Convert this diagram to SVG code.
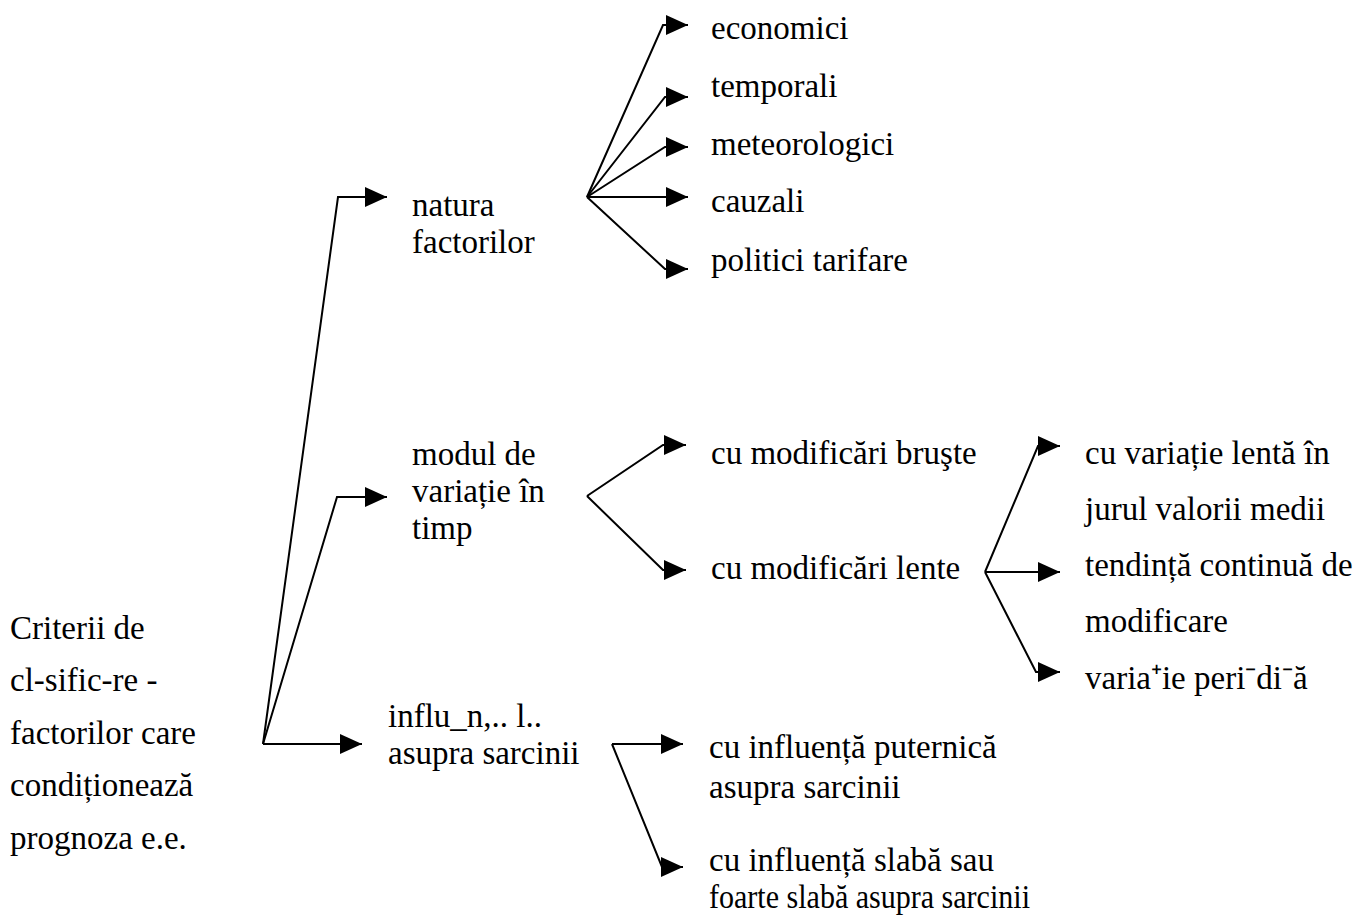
<svg xmlns="http://www.w3.org/2000/svg" width="1367" height="917" viewBox="0 0 1367 917">
  <style>
    text { font-family: "Liberation Serif", "Times New Roman", serif; font-size: 33px; fill: #000; }
    .link { fill: none; stroke: #000; stroke-width: 2; marker-end: url(#arrow); }
  </style>
  <defs>
    <marker id="arrow" markerUnits="userSpaceOnUse" markerWidth="24" markerHeight="22" refX="22" refY="10" orient="auto">
      <path d="M0,0 L22,10 L0,20 Z" fill="#000"/>
    </marker>
  </defs>
  <rect width="1367" height="917" fill="#fff"/>

  <!-- connectors -->
  <g id="connectors">
    <!-- root to the three criteria -->
    <path class="link" d="M263,744 L362,744"/>
    <path class="link" d="M263,744 L337,497 L387,497"/>
    <path class="link" d="M263,744 L338,197 L387,197"/>
    <!-- natura factorilor fan -->
    <path class="link" d="M587,197 L663,25 L688,25"/>
    <path class="link" d="M587,197 L665,97 L688,97"/>
    <path class="link" d="M587,197 L665,147 L688,147"/>
    <path class="link" d="M587,197 L688,197"/>
    <path class="link" d="M587,197 L665,269 L688,269"/>
    <!-- modul de variatie fan -->
    <path class="link" d="M587,496 L663,445 L686,445"/>
    <path class="link" d="M587,496 L663,570 L686,570"/>
    <!-- cu modificari lente fan -->
    <path class="link" d="M985,572 L1038,446 L1060,446"/>
    <path class="link" d="M985,572 L1060,572"/>
    <path class="link" d="M985,572 L1036,672 L1060,672"/>
    <!-- influenta fan -->
    <path class="link" d="M612,744 L683,744"/>
    <path class="link" d="M612,744 L662,867 L683,867"/>
  </g>

  <g id="root">
    <text x="10" y="639">Criterii de</text>
    <text x="10" y="691">cl‐sific‐re ‐</text>
    <text x="10" y="744">factorilor care</text>
    <text x="10" y="796">condiționează</text>
    <text x="10" y="849">prognoza e.e.</text>
  </g>

  <g id="natura">
    <text x="412" y="216">natura</text>
    <text x="412" y="253">factorilor</text>
  </g>
  <g id="modul">
    <text x="412" y="465">modul de</text>
    <text x="412" y="502">variație în</text>
    <text x="412" y="539">timp</text>
  </g>
  <g id="influenta">
    <text x="388" y="727">influ_n,.. l..</text>
    <text x="388" y="764">asupra sarcinii</text>
  </g>

  <g id="economici"><text x="711" y="39">economici</text></g>
  <g id="temporali"><text x="711" y="97">temporali</text></g>
  <g id="meteorologici"><text x="711" y="155">meteorologici</text></g>
  <g id="cauzali"><text x="711" y="212">cauzali</text></g>
  <g id="politici"><text x="711" y="271">politici tarifare</text></g>

  <g id="bruste"><text x="711" y="464">cu modificări bruşte</text></g>
  <g id="lente"><text x="711" y="579">cu modificări lente</text></g>

  <g id="lenta-medii">
    <text x="1085" y="464">cu variație lentă în</text>
    <text x="1085" y="520">jurul valorii medii</text>
  </g>
  <g id="tendinta">
    <text x="1085" y="576">tendință continuă de</text>
    <text x="1085" y="632">modificare</text>
  </g>
  <g id="periodica"><text x="1085" y="689">varia⁺ie peri⁻di⁻ă</text></g>

  <g id="puternica">
    <text x="709" y="758">cu influență puternică</text>
    <text x="709" y="798">asupra sarcinii</text>
  </g>
  <g id="slaba">
    <text x="709" y="871">cu influență slabă sau</text>
    <text x="709" y="908" textLength="321" lengthAdjust="spacingAndGlyphs">foarte slabă asupra sarcinii</text>
  </g>
</svg>
